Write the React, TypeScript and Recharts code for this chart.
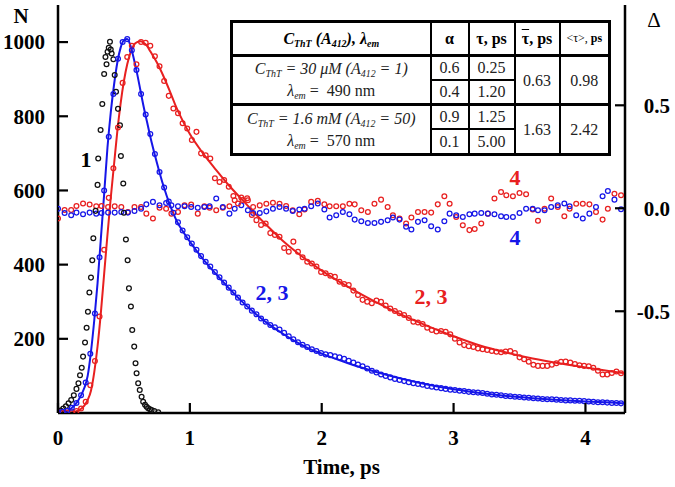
import React from 'react';
import { ComposedChart, XAxis, YAxis, Scatter, Line } from 'recharts';

const X_TICKS = [0, 1, 2, 3, 4];
const N_TICKS = [200, 400, 600, 800, 1000];
const D_TICKS = [-0.5, 0, 0.5];

// curve 1: instrument response (black)
const BLACK_T = [0, 0.02, 0.04, 0.06, 0.08, 0.1, 0.12, 0.14, 0.155, 0.167, 0.18, 0.19, 0.205, 0.217, 0.227, 0.238, 0.25, 0.26, 0.268, 0.285, 0.3, 0.305, 0.323, 0.336, 0.35, 0.36, 0.368, 0.376, 0.385, 0.394, 0.4, 0.407, 0.42, 0.43, 0.44, 0.455, 0.47, 0.477, 0.495, 0.5, 0.515, 0.528, 0.538, 0.553, 0.563, 0.578, 0.588, 0.596, 0.608, 0.62, 0.634, 0.646, 0.66, 0.672, 0.684, 0.697, 0.71, 0.73, 0.76];
const BLACK_N = [3, 7, 12, 18, 26, 35, 48, 65, 80, 102, 122, 152, 190, 230, 273, 325, 365, 412, 471, 545, 615, 686, 763, 833, 914, 960, 940, 974, 985, 1001, 980, 969, 954, 911, 866, 820, 776, 693, 619, 540, 468, 412, 336, 287, 224, 179, 134, 107, 80, 62, 44, 30, 22, 17, 13, 10, 8, 5, 2];

// curves 2 (data): blue = 30 uM, red = 1.6 mM
const DATA_T = [0, 0.035, 0.07, 0.105, 0.14, 0.175, 0.21, 0.245, 0.28, 0.315, 0.35, 0.385, 0.42, 0.455, 0.49, 0.525, 0.56, 0.595, 0.63, 0.665, 0.7, 0.735, 0.77, 0.805, 0.84, 0.875, 0.91, 0.945, 0.98, 1.015, 1.05, 1.085, 1.12, 1.155, 1.19, 1.225, 1.26, 1.295, 1.33, 1.365, 1.4, 1.435, 1.47, 1.505, 1.54, 1.575, 1.61, 1.645, 1.68, 1.715, 1.75, 1.785, 1.82, 1.855, 1.89, 1.925, 1.96, 1.995, 2.03, 2.065, 2.1, 2.135, 2.17, 2.205, 2.24, 2.275, 2.31, 2.345, 2.38, 2.415, 2.45, 2.485, 2.52, 2.555, 2.59, 2.625, 2.66, 2.695, 2.73, 2.765, 2.8, 2.835, 2.87, 2.905, 2.94, 2.975, 3.01, 3.045, 3.08, 3.115, 3.15, 3.185, 3.22, 3.255, 3.29, 3.325, 3.36, 3.395, 3.43, 3.465, 3.5, 3.535, 3.57, 3.605, 3.64, 3.675, 3.71, 3.745, 3.78, 3.815, 3.85, 3.885, 3.92, 3.955, 3.99, 4.025, 4.06, 4.095, 4.13, 4.165, 4.2, 4.235, 4.27];
const BLUE_N = [2, 3, 6, 14, 27, 48, 82, 160, 268, 420,
  600, 745, 860, 955, 1000, 1008, 978, 925, 860, 805,
  752, 698, 650, 608, 570, 540, 514, 492, 474, 457,
  440, 423, 408, 395, 380, 366, 352, 338, 325, 311,
  298, 287, 276, 266, 255, 246, 237, 231, 225, 216,
  207, 199, 191, 184, 178, 172, 167, 162, 158, 156,
  153, 150, 146, 141, 136, 131, 126, 120, 114, 109,
  104, 100, 96, 92, 89, 86, 83, 80, 78, 76,
  73, 71, 69, 67, 65, 63, 62, 60, 59, 57,
  56, 55, 54, 52, 50, 49, 48, 46, 45, 44,
  43, 42, 41, 40, 39, 38, 37, 37, 36, 35,
  34, 34, 33, 33, 32, 31, 30, 29, 29, 28,
  27, 27, 26];
const RED_N = [2, 0, 1, 2, 5, 12, 30, 75, 140, 260,
  440, 580, 660, 770, 890, 960, 990, 940, 1000, 998,
  990, 962, 935, 895, 855, 821, 808, 781, 767, 736,
  758, 700, 695, 686, 633, 623, 628, 610, 585, 565,
  574, 579, 534, 520, 507, 511, 485, 480, 475, 445,
  435, 462, 435, 420, 408, 403, 395, 380, 377, 370,
  367, 354, 348, 345, 330, 318, 305, 300, 296, 303,
  300, 290, 282, 275, 269, 264, 256, 246, 244, 240,
  230, 224, 220, 221, 219, 212, 200, 190, 183, 180,
  178, 174, 172, 170, 167, 165, 164, 166, 167, 162,
  150, 145, 138, 130, 127, 127, 127, 130, 134, 138,
  139, 136, 132, 129, 127, 126, 122, 114, 104, 104,
  108, 112, 107];

// curves 3 (fits)
const FIT_T = [0, 0.05, 0.1, 0.15, 0.2, 0.225, 0.25, 0.275, 0.3, 0.325, 0.35, 0.375, 0.4, 0.425, 0.45, 0.475, 0.5, 0.525, 0.55, 0.575, 0.6, 0.625, 0.65, 0.675, 0.7, 0.75, 0.8, 0.85, 0.9, 0.95, 1.0, 1.1, 1.2, 1.3, 1.4, 1.5, 1.6, 1.7, 1.8, 1.9, 2.0, 2.2, 2.4, 2.6, 2.8, 3.0, 3.2, 3.4, 3.6, 3.8, 4.0, 4.2, 4.3];
const BLUE_FIT = [0, 3, 12, 32, 68, 100, 165, 250, 350, 470, 590, 715, 810, 885, 945, 985, 1005, 1008, 990, 955, 915, 870, 825, 785, 745, 675, 612, 560, 518, 488, 462, 415, 374, 335, 299, 267, 239, 215, 193, 174, 160, 134, 112, 93, 77, 64, 54, 46, 40, 35, 31, 28, 26];
const RED_FIT = [0, 0, 2, 6, 20, 35, 60, 110, 180, 270, 375, 480, 580, 670, 760, 835, 895, 940, 972, 992, 1000, 1002, 998, 990, 975, 945, 908, 866, 822, 785, 752, 700, 655, 612, 574, 536, 500, 466, 436, 409, 384, 340, 301, 266, 235, 207, 182, 163, 147, 134, 123, 112, 107];

// curves 4 (residuals, right axis)
const RES_T = [0, 0.05, 0.1, 0.14, 0.19, 0.24, 0.29, 0.33, 0.38, 0.43, 0.48, 0.53, 0.58, 0.63, 0.67, 0.72, 0.77, 0.82, 0.86, 0.91, 0.96, 1.01, 1.06, 1.11, 1.15, 1.2, 1.25, 1.3,
  1.34, 1.39, 1.44, 1.48, 1.53, 1.58, 1.63, 1.68, 1.73, 1.78, 1.83, 1.87, 1.92, 1.97, 2.02, 2.06, 2.11, 2.16, 2.21, 2.25, 2.3, 2.35, 2.4, 2.45, 2.5, 2.54, 2.59, 2.64, 2.68, 2.73, 2.78, 2.83, 2.88, 2.93, 2.97, 3.02, 3.07, 3.12, 3.16, 3.21, 3.26, 3.31, 3.36, 3.4, 3.45, 3.5, 3.55, 3.6, 3.64, 3.69, 3.74, 3.79, 3.84, 3.88, 3.93, 3.98, 4.03, 4.08, 4.13, 4.17, 4.22, 4.27];
const BLUE_RES = [-0.002, -0.023, -0.034, -0.021, -0.029, -0.021, -0.026, -0.023, -0.021, -0.021, -0.018, -0.021, -0.013, -0.002, 0.019, 0.031, 0.015, 0.026, 0.015, 0.01, 0.01, 0.006, 0.003, 0.006, 0.01, 0.047, 0.006, -0.026,
  -0.002, 0.015, -0.01, -0.023, -0.023, -0.015, -0.002, 0.006, -0.002, -0.013,
  -0.006, -0.002, 0.01, 0.023, -0.006, -0.045, -0.034, -0.018, -0.029, -0.055,
  -0.063, -0.071, -0.071, -0.066, -0.058, -0.045, -0.055, -0.09, -0.103, -0.066,
  -0.058, -0.087, -0.103, -0.063, -0.026, -0.034, -0.042, -0.029, -0.026, -0.023,
  -0.026, -0.029, -0.039, -0.042, -0.042, -0.023, -0.002, -0.002, -0.01, -0.01,
  0.006, 0.015, 0.023, 0.01, -0.034, -0.05, -0.026, 0.006, 0.058, 0.084,
  0.042, -0.005];
const RED_RES = [-0.05, -0.008, -0.008, 0.011, 0.023, 0.018, 0.01, 0.011, 0.006, 0.01, 0.006, -0.018, 0.006, 0.006, -0.026, -0.05, 0.003, -0.002, -0.026, -0.018, 0.015, 0.018, -0.026, 0.01, 0.003, -0.01, 0.003, 0.01,
  0.039, 0.052, 0.039, 0.006, 0.014, 0.022, 0.027, 0.022, 0.011, -0.01,
  -0.029, -0.006, 0.031, 0.036, 0.019, 0.01, 0.01, 0.01, 0.022, 0.019,
  -0.01, -0.018, 0.022, 0.042, 0.006, -0.034, -0.05, -0.074, -0.045, -0.018,
  -0.018, -0.021, 0.019, 0.058, 0.022, -0.042, -0.082, -0.106, -0.101, -0.074,
  -0.026, 0.047, 0.079, 0.063, 0.058, 0.074, 0.068, -0.006, -0.061, -0.002,
  0.047, 0.006, -0.039, -0.002, 0.022, 0.022, 0.019, -0.018, -0.055, -0.002,
  0.071, 0.063];

const BLUE = '#1616e8';
const RED = '#e82020';
const BLACK = '#111111';
const FONT = "'Liberation Serif', 'DejaVu Serif', serif";

const zip = (ts: number[], vs: number[]) => ts.map((t, i) => ({ t, v: vs[i] }));

const ring = (color: string) => (p: any) => (
  <circle cx={p.cx} cy={p.cy} r={2.4} fill="none" stroke={color} strokeWidth={1.25} />
);

const tickStyle: React.CSSProperties = { fontFamily: FONT, fontWeight: 700, fontSize: 21, fill: '#000' };

const LeftTick = (p: any) => (
  <g>
    <line x1={p.x + 13} x2={p.x + 23} y1={p.y} y2={p.y} stroke="#000" strokeWidth={2.2} />
    <text x={p.x} y={p.y} dy="0.35em" textAnchor="end" style={tickStyle}>{p.payload.value}</text>
  </g>
);
const RightTick = (p: any) => (
  <g>
    <line x1={p.x - 15} x2={p.x - 25} y1={p.y} y2={p.y} stroke="#000" strokeWidth={2.2} />
    <text x={p.x + 30} y={p.y} dy="0.35em" textAnchor="end" style={tickStyle}>{Number(p.payload.value).toFixed(1)}</text>
  </g>
);
const BottomTick = (p: any) => (
  <g>
    <line x1={p.x} x2={p.x} y1={p.y - 17} y2={p.y - 27} stroke="#000" strokeWidth={2.2} />
    <text x={p.x} y={p.y} dy="0.71em" textAnchor="middle" style={tickStyle}>{p.payload.value}</text>
  </g>
);

const subS: React.CSSProperties = { fontSize: '0.62em', verticalAlign: '-0.3em', lineHeight: 0 };
const cell: React.CSSProperties = { border: '2px solid #000', padding: 0, textAlign: 'center', verticalAlign: 'middle', lineHeight: '19px' };
const thick: React.CSSProperties = { ...cell, borderBottom: '3px solid #000' };

const annot = (left: number, top: number, color: string, text: string, extra: React.CSSProperties = {}) => (
  <div style={{ position: 'absolute', left, top, transform: 'translate(-50%, -50%)', color, fontFamily: FONT, fontWeight: 700, fontSize: 22, lineHeight: 1, whiteSpace: 'nowrap', ...extra }}>{text}</div>
);

export default function App() {
  const black = zip(BLACK_T, BLACK_N);
  const blue = zip(DATA_T, BLUE_N);
  const red = zip(DATA_T, RED_N);
  const blueFit = zip(FIT_T, BLUE_FIT);
  const redFit = zip(FIT_T, RED_FIT);
  const blueRes = zip(RES_T, BLUE_RES);
  const redRes = zip(RES_T, RED_RES);

  return (
    <div style={{ position: 'absolute', left: 0, top: 0, width: 675, height: 487, background: '#fff', overflow: 'hidden', fontFamily: FONT }}>
      <ComposedChart width={675} height={487} margin={{ top: 5, right: 0, bottom: 0, left: 0 }}>
        <XAxis xAxisId="top" orientation="top" type="number" domain={[0, 4.3]} height={0} tick={false} tickLine={false}
          axisLine={{ stroke: '#000', strokeWidth: 2.5 }} />
        <XAxis xAxisId="b" type="number" dataKey="t" domain={[0, 4.3]} ticks={X_TICKS} allowDataOverflow height={74}
          axisLine={{ stroke: '#000', strokeWidth: 2.5 }} tickLine={false} tickSize={0} tickMargin={17} tick={BottomTick}
          label={{ value: 'Time, ps', position: 'insideBottom', offset: 13, style: tickStyle }} />
        <YAxis yAxisId="left" type="number" domain={[0, 1100]} ticks={N_TICKS} allowDataOverflow width={58}
          axisLine={{ stroke: '#000', strokeWidth: 2.5 }} tickLine={false} tickSize={0} tickMargin={13} tick={LeftTick} />
        <YAxis yAxisId="right" orientation="right" type="number" domain={[-0.994, 0.987]} ticks={D_TICKS} allowDataOverflow width={50}
          axisLine={{ stroke: '#000', strokeWidth: 2.5 }} tickLine={false} tickSize={0} tickMargin={15} tick={RightTick} />

        <Scatter xAxisId="b" yAxisId="right" data={redRes} dataKey="v" shape={ring(RED)} isAnimationActive={false} />
        <Scatter xAxisId="b" yAxisId="right" data={blueRes} dataKey="v" shape={ring(BLUE)} isAnimationActive={false} />
        <Scatter xAxisId="b" yAxisId="left" data={black} dataKey="v" shape={ring(BLACK)} isAnimationActive={false} />
        <Scatter xAxisId="b" yAxisId="left" data={red} dataKey="v" shape={ring(RED)} isAnimationActive={false} />
        <Scatter xAxisId="b" yAxisId="left" data={blue} dataKey="v" shape={ring(BLUE)} isAnimationActive={false} />
        <Line xAxisId="b" yAxisId="left" data={redFit} dataKey="v" type="monotone" stroke={RED} strokeWidth={2} dot={false} isAnimationActive={false} />
        <Line xAxisId="b" yAxisId="left" data={blueFit} dataKey="v" type="monotone" stroke={BLUE} strokeWidth={2} dot={false} isAnimationActive={false} />
      </ComposedChart>

      {annot(21, 16, '#000', 'N', { fontSize: 21 })}
      {annot(654, 20, '#000', 'Δ', { fontWeight: 400, fontSize: 21 })}
      {annot(86, 160, '#000', '1')}
      {annot(272, 293, BLUE, '2, 3')}
      {annot(431, 297, RED, '2, 3')}
      {annot(515, 178, RED, '4')}
      {annot(515, 238, BLUE, '4')}

      <table style={{ position: 'absolute', left: 230, top: 20, width: 378, height: 133, borderCollapse: 'collapse', tableLayout: 'fixed', background: '#fff', border: '3px solid #000', fontFamily: FONT, fontSize: 16, color: '#222' }}>
        <colgroup>
          <col style={{ width: 199 }} />
          <col style={{ width: 38 }} />
          <col style={{ width: 46 }} />
          <col style={{ width: 45 }} />
          <col style={{ width: 50 }} />
        </colgroup>
        <tbody>
          <tr style={{ height: 34 }}>
            <td style={{ ...thick, fontWeight: 700, fontStyle: 'italic', color: '#000' }}>C<span style={subS}>ThT</span> (A<span style={subS}>412</span>), λ<span style={subS}>em</span></td>
            <td style={{ ...thick, fontWeight: 700, color: '#000' }}>α</td>
            <td style={{ ...thick, fontWeight: 700, color: '#000' }}>τ, ps</td>
            <td style={{ ...thick, fontWeight: 700, color: '#000' }}><span style={{ textDecoration: 'overline' }}>τ</span>, ps</td>
            <td style={{ ...thick, fontSize: 12, color: '#000' }}>&lt;τ&gt;, <b>ps</b></td>
          </tr>
          <tr style={{ height: 24 }}>
            <td rowSpan={2} style={{ ...thick, lineHeight: '22px' }}>
              <i>C<span style={subS}>ThT</span> = 30 μM (A<span style={subS}>412</span> = 1)</i><br />
              <i>λ<span style={subS}>em</span></i> =&nbsp; 490 nm
            </td>
            <td style={cell}>0.6</td>
            <td style={cell}>0.25</td>
            <td rowSpan={2} style={thick}>0.63</td>
            <td rowSpan={2} style={thick}>0.98</td>
          </tr>
          <tr style={{ height: 25 }}>
            <td style={thick}>0.4</td>
            <td style={thick}>1.20</td>
          </tr>
          <tr style={{ height: 24 }}>
            <td rowSpan={2} style={{ ...cell, lineHeight: '22px' }}>
              <i>C<span style={subS}>ThT</span> = 1.6 mM (A<span style={subS}>412</span> = 50)</i><br />
              <i>λ<span style={subS}>em</span></i> =&nbsp; 570 nm
            </td>
            <td style={cell}>0.9</td>
            <td style={cell}>1.25</td>
            <td rowSpan={2} style={cell}>1.63</td>
            <td rowSpan={2} style={cell}>2.42</td>
          </tr>
          <tr style={{ height: 26 }}>
            <td style={cell}>0.1</td>
            <td style={cell}>5.00</td>
          </tr>
        </tbody>
      </table>
    </div>
  );
}
